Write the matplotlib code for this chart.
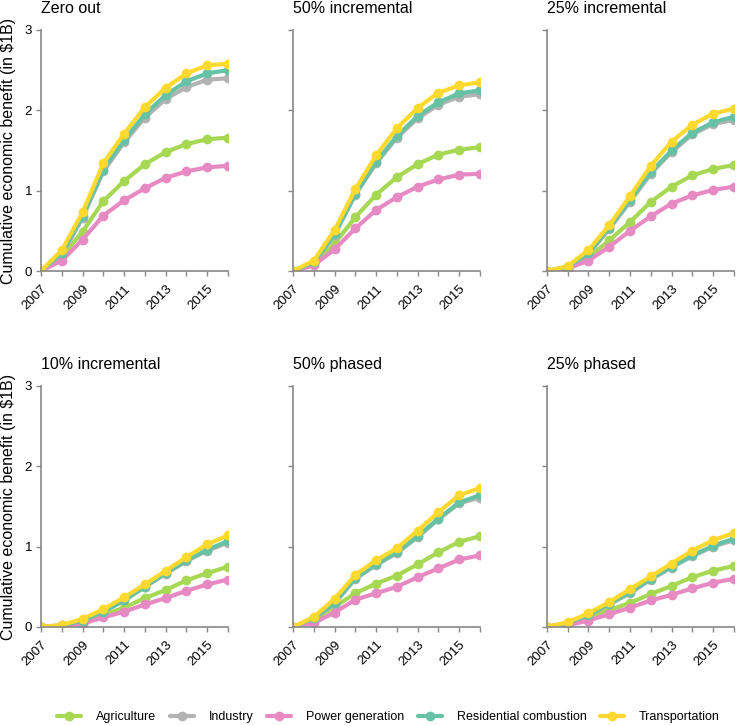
import matplotlib
matplotlib.use("Agg")
import matplotlib.pyplot as plt

plt.rcParams['font.family'] = ['Liberation Sans', 'DejaVu Sans']

years = list(range(2007, 2017))
sectors = ["Agriculture", "Industry", "Power generation",
           "Residential combustion", "Transportation"]
colors = ["#a6d854", "#b3b3b3", "#e78ac3", "#66c2a5", "#ffd92f"]
titles = ["Zero out", "50% incremental", "25% incremental",
          "10% incremental", "50% phased", "25% phased"]

# each scenario: rows in the order of `sectors`
zero_out = [
    [0, 0.18, 0.49, 0.87, 1.12, 1.33, 1.48, 1.58, 1.64, 1.66],
    [0, 0.20, 0.66, 1.24, 1.60, 1.91, 2.14, 2.29, 2.38, 2.40],
    [0, 0.13, 0.39, 0.69, 0.88, 1.03, 1.16, 1.24, 1.29, 1.31],
    [0, 0.22, 0.68, 1.26, 1.63, 1.95, 2.19, 2.36, 2.46, 2.50],
    [0, 0.26, 0.73, 1.34, 1.71, 2.04, 2.28, 2.46, 2.56, 2.58],
]
inc_50 = [
    [0, 0.10, 0.34, 0.67, 0.95, 1.17, 1.33, 1.45, 1.51, 1.54],
    [0, 0.10, 0.45, 0.95, 1.34, 1.66, 1.90, 2.07, 2.17, 2.20],
    [0, 0.07, 0.27, 0.53, 0.76, 0.92, 1.05, 1.14, 1.20, 1.21],
    [0, 0.11, 0.46, 0.96, 1.36, 1.68, 1.93, 2.10, 2.21, 2.25],
    [0, 0.13, 0.51, 1.02, 1.44, 1.78, 2.03, 2.22, 2.31, 2.35],
]
inc_25 = [
    [0, 0.04, 0.17, 0.38, 0.61, 0.86, 1.05, 1.19, 1.27, 1.32],
    [0, 0.05, 0.21, 0.52, 0.86, 1.21, 1.48, 1.70, 1.83, 1.88],
    [0, 0.03, 0.13, 0.30, 0.50, 0.68, 0.84, 0.94, 1.01, 1.05],
    [0, 0.05, 0.22, 0.54, 0.88, 1.23, 1.50, 1.72, 1.85, 1.92],
    [0, 0.06, 0.26, 0.57, 0.93, 1.31, 1.61, 1.82, 1.96, 2.02],
]
inc_10 = [
    [0, 0.01, 0.05, 0.15, 0.24, 0.36, 0.46, 0.58, 0.67, 0.75],
    [0, 0.02, 0.08, 0.19, 0.33, 0.50, 0.66, 0.82, 0.95, 1.05],
    [0, 0.005, 0.04, 0.12, 0.19, 0.28, 0.36, 0.45, 0.53, 0.59],
    [0, 0.02, 0.08, 0.19, 0.33, 0.50, 0.67, 0.83, 0.96, 1.07],
    [0, 0.025, 0.10, 0.22, 0.37, 0.53, 0.70, 0.87, 1.03, 1.14],
]
phased_50 = [
    [0, 0.09, 0.25, 0.42, 0.54, 0.64, 0.78, 0.93, 1.06, 1.13],
    [0, 0.10, 0.29, 0.60, 0.77, 0.92, 1.12, 1.34, 1.54, 1.61],
    [0, 0.05, 0.18, 0.34, 0.42, 0.50, 0.62, 0.73, 0.84, 0.89],
    [0, 0.11, 0.30, 0.61, 0.78, 0.93, 1.13, 1.35, 1.55, 1.64],
    [0, 0.125, 0.35, 0.65, 0.83, 0.98, 1.20, 1.43, 1.64, 1.73],
]
phased_25 = [
    [0, 0.04, 0.13, 0.21, 0.30, 0.41, 0.51, 0.62, 0.70, 0.76],
    [0, 0.05, 0.14, 0.28, 0.42, 0.59, 0.74, 0.88, 1.00, 1.08],
    [0, 0.02, 0.08, 0.16, 0.24, 0.33, 0.40, 0.48, 0.55, 0.60],
    [0, 0.05, 0.15, 0.29, 0.43, 0.60, 0.75, 0.89, 1.01, 1.10],
    [0, 0.06, 0.17, 0.31, 0.47, 0.63, 0.79, 0.95, 1.08, 1.17],
]
scenarios = [zero_out, inc_50, inc_25, inc_10, phased_50, phased_25]

fig = plt.figure(figsize=(7.4, 7.26), dpi=100)
lefts = [0.0554, 0.396, 0.739]
bottoms = [0.6267, 0.1364]
w, h = 0.2527, 0.332
axc = "#888888"

for i, (title, data) in enumerate(zip(titles, scenarios)):
    r, c = divmod(i, 3)
    ax = fig.add_axes([lefts[c], bottoms[r], w, h])
    for name, col, vals in zip(sectors, colors, data):
        ax.plot(years, vals, color=col, lw=3, marker='o', ms=6,
                label=name, solid_capstyle='round')
    ax.set_xlim(2007, 2016)
    ax.set_ylim(0, 3)
    ax.set_xticks(years)
    ax.set_xticklabels([str(y) if y % 2 == 1 else "" for y in years],
                       rotation=45, ha='right', va='top',
                       rotation_mode='anchor')
    ax.set_yticks([0, 1, 2, 3])
    if c == 0:
        ax.set_ylabel("Cumulative economic benefit (in $1B)", fontsize=11.5,
                      labelpad=6)
    else:
        ax.set_yticklabels([])
    for s in ['top', 'right']:
        ax.spines[s].set_visible(False)
    for s in ['left', 'bottom']:
        ax.spines[s].set_color(axc)
        ax.spines[s].set_linewidth(1.2)
    ax.tick_params(colors=axc, labelcolor='black', length=3.5, width=1,
                   labelsize=9.5, pad=3)
    ax.tick_params(axis='x', pad=5)
    ax.set_title(title, loc='left', fontsize=11.5, pad=12)

handles, labels = ax.get_legend_handles_labels()
fig.legend(handles, labels, loc='center', bbox_to_anchor=(0.525, 0.012),
           ncol=5, frameon=False, fontsize=9, handlelength=1.9,
           handletextpad=1.2, columnspacing=1.1)

fig.savefig("out.png", dpi=100)
